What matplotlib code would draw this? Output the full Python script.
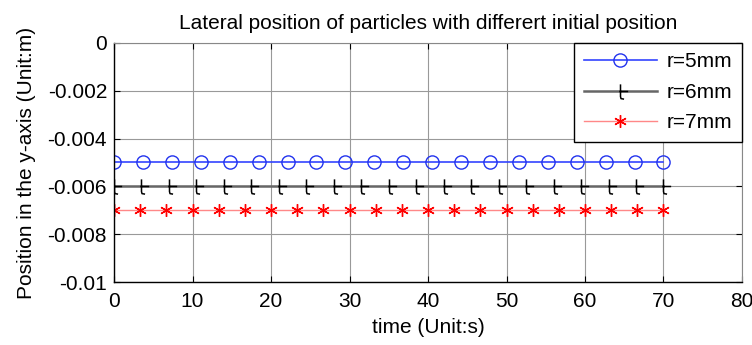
import matplotlib
matplotlib.use('Agg')
import matplotlib.pyplot as plt
from matplotlib.path import Path

plt.rcParams['font.family'] = ['Liberation Sans', 'DejaVu Sans']

# time samples (s) for each run
t5 = [0, 3.68, 7.37, 11.05, 14.74, 18.42, 22.11, 25.79, 29.47, 33.16,
      36.84, 40.53, 44.21, 47.89, 51.58, 55.26, 58.95, 62.63, 66.32, 70]
t6 = [0, 3.5, 7, 10.5, 14, 17.5, 21, 24.5, 28, 31.5, 35,
      38.5, 42, 45.5, 49, 52.5, 56, 59.5, 63, 66.5, 70]
t7 = [0, 3.33, 6.67, 10, 13.33, 16.67, 20, 23.33, 26.67, 30, 33.33,
      36.67, 40, 43.33, 46.67, 50, 53.33, 56.67, 60, 63.33, 66.67, 70]

# lateral positions (m)
y5 = [-0.005] * len(t5)
y6 = [-0.006] * len(t6)
y7 = [-0.007] * len(t7)

labels = ['r=5mm', 'r=6mm', 'r=7mm']
xticks = [0, 10, 20, 30, 40, 50, 60, 70, 80]
yticks = [0, -0.002, -0.004, -0.006, -0.008, -0.01]
ytick_labels = ['0', '-0.002', '-0.004', '-0.006', '-0.008', '-0.01']

# odd "t"-shaped marker like the original render
tverts = [(0, 0.7), (0, -0.5), (0.05, -0.7), (0.35, -0.75),
          (-0.1, 0.0), (0.75, 0.0)]
tcodes = [Path.MOVETO, Path.LINETO, Path.LINETO, Path.LINETO,
          Path.MOVETO, Path.LINETO]
tmark = Path(tverts, tcodes)

fs = 15

fig = plt.figure(figsize=(7.52, 3.45), dpi=100)
ax = fig.add_axes([0.1516, 0.1826, 0.8351, 0.6928])

ax.plot(t5, y5, color='#3344ff', lw=1.2, marker='o', ms=9.5,
        mfc='none', mec='#2233ee', mew=1.0, label=labels[0])
ax.plot(t6, y6, color='#666666', lw=1.8, marker=tmark, ms=11,
        mfc='none', mec='black', mew=1.1, label=labels[1])
ax.plot(t7, y7, color='#ff8888', lw=1.0, marker=(6, 2, 0), ms=9,
        mec='red', mew=1.0, label=labels[2])

ax.set_xlim(0, 80)
ax.set_ylim(-0.01, 0)
ax.set_xticks(xticks)
ax.set_yticks(yticks)
ax.set_yticklabels(ytick_labels)
ax.tick_params(direction='in', top=True, right=True, length=4,
               labelsize=fs)
ax.tick_params(axis='x', pad=7)
ax.tick_params(axis='y', pad=5)
ax.grid(True, color='#999999', lw=0.8)
for s in ['left', 'bottom']:
    ax.spines[s].set_linewidth(1.0)
for s in ['top', 'right']:
    ax.spines[s].set_color('#888888')
    ax.spines[s].set_linewidth(0.8)

ax.set_title('Lateral position of particles with differert initial position',
             fontsize=fs, pad=10)
ax.set_xlabel('time (Unit:s)', fontsize=fs, labelpad=5)
ax.set_ylabel('Position in the y-axis (Unit:m)', fontsize=fs, labelpad=8)

leg = ax.legend(loc='upper right', fontsize=fs, fancybox=False,
                framealpha=1, edgecolor='black', borderaxespad=0,
                handlelength=3.5, handletextpad=0.5, borderpad=0.45,
                labelspacing=0.55)
leg.get_frame().set_linewidth(1.0)

fig.savefig('out.png', dpi=100)
